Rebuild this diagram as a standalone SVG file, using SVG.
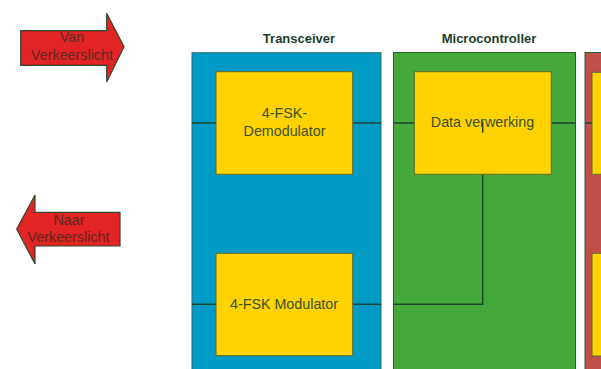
<svg xmlns="http://www.w3.org/2000/svg" width="601" height="369" viewBox="0 0 601 369">
  <style>
    .lbl { font-family: "Liberation Sans", Arial, sans-serif; font-size: 14.3px; fill: #3b5226; text-anchor: middle; }
    .arrow-lbl { font-family: "Liberation Sans", Arial, sans-serif; font-size: 14.3px; fill: #5e2a1e; text-anchor: middle; }
    .title { font-family: "Liberation Sans", Arial, sans-serif; font-size: 13px; font-weight: bold; fill: #1e3d2a; text-anchor: middle; }
    .arrow { fill: #e32424; stroke: #2e4a2e; stroke-width: 1.2; }
    .block { fill: #ffd200; stroke: #5e6a2a; stroke-width: 1; }
    .wire { stroke: #1f4630; stroke-width: 1.5; fill: none; }
  </style>

  <!-- incoming / outgoing traffic-light arrows -->
  <g id="arrow-van">
    <polygon class="arrow" points="20.7,30.7 106.7,30.7 106.7,13.3 124,46.7 106.7,82 106.7,65.3 20.7,65.3"/>
    <text class="arrow-lbl" x="72" y="42.3">Van</text>
    <text class="arrow-lbl" x="72" y="60.3">Verkeerslicht</text>
  </g>
  <g id="arrow-naar">
    <polygon class="arrow" points="120,212.3 35,212.3 35,195 16.7,229 35,264 35,246 120,246"/>
    <text class="arrow-lbl" x="69" y="225">Naar</text>
    <text class="arrow-lbl" x="68.5" y="242.3">Verkeerslicht</text>
  </g>

  <!-- Transceiver -->
  <g id="transceiver">
    <text class="title" x="299" y="42.5">Transceiver</text>
    <rect x="192" y="52.7" width="189" height="330" fill="#009bc5" stroke="#2d6b6b" stroke-width="1"/>
  </g>

  <!-- Microcontroller -->
  <g id="microcontroller">
    <text class="title" x="489" y="42.5">Microcontroller</text>
    <rect x="393.5" y="52.5" width="182" height="330" fill="#45a83a" stroke="#2b5a33" stroke-width="1"/>
  </g>

  <!-- third stage (cut off) -->
  <g id="stage3">
    <rect x="585" y="52.5" width="30" height="330" fill="#c0504a" stroke="#2b5a33" stroke-width="1"/>
  </g>

  <!-- connectors -->
  <g id="connectors">
    <line class="wire" x1="192" y1="123" x2="216" y2="123"/>
    <line class="wire" x1="353" y1="123" x2="381" y2="123"/>
    <line class="wire" x1="393.5" y1="123" x2="414.3" y2="123"/>
    <line class="wire" x1="551.3" y1="123" x2="575.5" y2="123"/>
    <line class="wire" x1="585" y1="123" x2="592" y2="123"/>
    <line class="wire" x1="192" y1="304.3" x2="216" y2="304.3"/>
    <line class="wire" x1="353" y1="304.3" x2="381" y2="304.3"/>
    <polyline class="wire" points="393.5,304.3 482.7,304.3 482.7,174.3"/>
  </g>

  <!-- inner blocks -->
  <g id="demodulator">
    <rect class="block" x="216" y="71.7" width="136.7" height="102.6"/>
    <text class="lbl" x="284.5" y="118.3">4-FSK-</text>
    <text class="lbl" x="284.5" y="135.7">Demodulator</text>
  </g>
  <g id="modulator">
    <rect class="block" x="216" y="253.3" width="136.7" height="102.4"/>
    <text class="lbl" x="284" y="309">4-FSK Modulator</text>
  </g>
  <g id="data-verwerking">
    <rect class="block" x="414.3" y="71.7" width="137" height="102.6"/>
    <text class="lbl" x="482.5" y="127.3">Data verwerking</text>
    <line class="wire" x1="482.7" y1="121.7" x2="482.7" y2="132.7" stroke-width="1"/>
  </g>
  <g id="stage3-top">
    <rect class="block" x="592" y="72.3" width="20" height="102"/>
  </g>
  <g id="stage3-bottom">
    <rect class="block" x="592" y="253.3" width="20" height="102.7"/>
  </g>
</svg>
